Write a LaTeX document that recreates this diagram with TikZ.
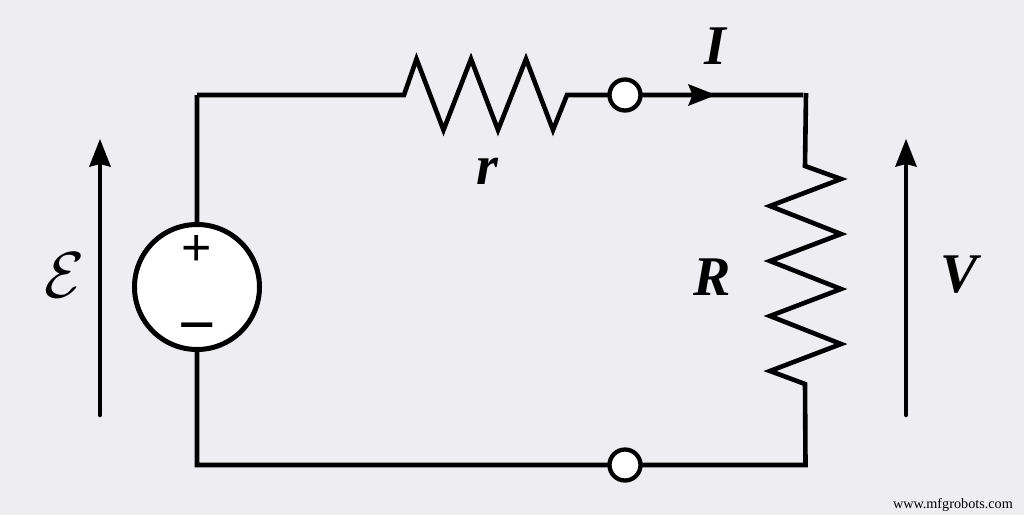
\documentclass[tikz,border=0pt]{standalone}
\usepackage{fontspec}
\setmainfont{Liberation Serif}
\newfontfamily\signfont{Liberation Sans}
\usetikzlibrary{arrows.meta}
\definecolor{bgc}{HTML}{EEEDF2}
\tikzset{
  wire/.style={line width=4.6pt,line join=miter,miter limit=10,line cap=butt},
  term/.style={circle,draw=black,fill=white,line width=4.3pt,minimum size=31pt,inner sep=0pt},
  source/.style={circle,draw=black,fill=white,line width=5pt,minimum size=125pt,inner sep=0pt},
  volt/.style={line width=4.5pt,line cap=round,-{Stealth[length=28pt,width=22pt,inset=3pt,line width=0pt,sharp]}},
  lab/.style={inner sep=0pt,font=\fontsize{56}{56}\selectfont\bfseries\itshape},
  sign/.style={inner sep=0pt,font=\fontsize{52}{52}\signfont}
}
\begin{document}
\begin{tikzpicture}[x=1pt,y=-1pt]
\useasboundingbox (0,0) rectangle (1024,515);
\fill[bgc] (0,0) rectangle (1024,515);
% corners and ends
\coordinate (tl) at (197,95);
\coordinate (bl) at (197,465);
\coordinate (br) at (805.5,465);
\coordinate (rs) at (404,95);
\coordinate (re) at (567,95);
\coordinate (tr) at (803,95);
\coordinate (trv) at (806,93);
\coordinate (Rs) at (805,166);
\coordinate (Re) at (805,384);
\coordinate (e1) at (100,415);
\coordinate (e2) at (100,139);
\coordinate (v1) at (906,415);
\coordinate (v2) at (906,139);
\coordinate (ah) at (716,95);
% wires
\draw[wire] (tl) -- (rs) -- (416.5,59) -- (443.5,130) -- (471,59) -- (498,130) -- (526,59) -- (553,130) -- (re) -- (tr);
\draw[wire] (trv) -- (Rs) -- (841,179) -- (770,206) -- (841,234) -- (770,261) -- (841,289) -- (770,316) -- (841,344) -- (770,371) -- (Re) -- (br) -- (bl) -- (tl);
% arrowhead on current
\fill (ah) -- (688,84) -- (692.5,95) -- (688,106) -- cycle;
% elements
\node[source] (src) at (197,287) {};
\node[term] (t1) at (625,95) {};
\node[term] (t2) at (625,465) {};
\node[sign] (plus) at (197,250) {+};
\node[sign,font=\fontsize{64}{64}\signfont] (minus) at (197,335) {−};
% voltage arrows
\draw[volt] (e1) -- (e2);
\draw[volt] (v1) -- (v2);
% labels
\node[inner sep=0pt,scale=6.5] (E) at (65,275) {$\mathcal{E}$};
\node[lab] (r) at (487,171) {r};
\node[lab] (I) at (715,46) {I};
\node[lab] (R) at (712,277) {R};
\node[lab] (V) at (959,275) {V};
\node[inner sep=0pt,font=\fontsize{14.2}{14.2}\selectfont,anchor=east] (w) at (1013,505) {www.mfgrobots.com};
\end{tikzpicture}
\end{document}
